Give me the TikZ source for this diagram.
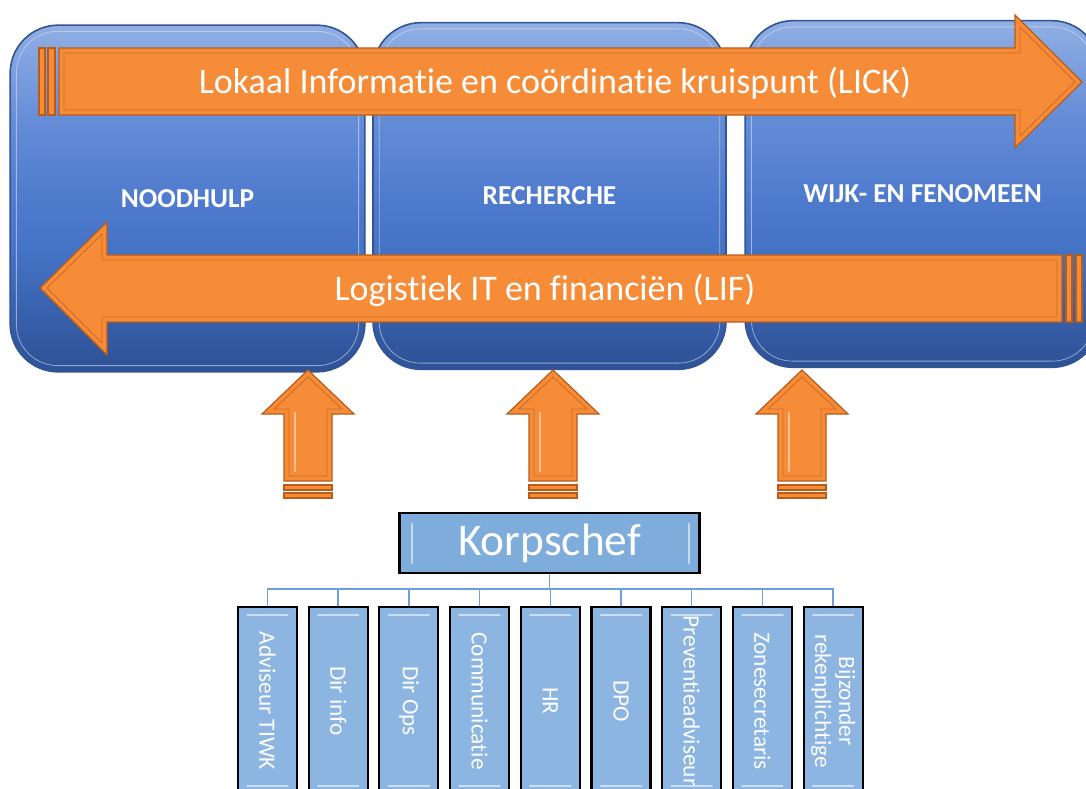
\documentclass[tikz,border=0pt]{standalone}
\usepackage{fontspec}
\setmainfont{Carlito}[Ligatures=NoCommon]
\usepackage{tikz}
\usetikzlibrary{positioning,calc}
\definecolor{oranje}{RGB}{246,139,56}
\definecolor{oranjerand}{RGB}{184,92,26}
\definecolor{blauw1}{RGB}{145,175,228}
\definecolor{blauw2}{RGB}{100,140,215}
\definecolor{blauw3}{RGB}{78,122,205}
\definecolor{blauw4}{RGB}{68,114,196}
\definecolor{blauw5}{RGB}{50,88,160}
\definecolor{blauw6}{RGB}{46,82,150}
\definecolor{blauwrand}{RGB}{50,84,148}
\definecolor{korpsblauw}{RGB}{126,173,220}
\definecolor{stafblauw}{RGB}{141,181,226}
\definecolor{lijnblauw}{RGB}{110,159,218}
\pgfdeclareverticalshading{pijlerkleur}{100bp}{color(0bp)=(blauw6); color(25bp)=(blauw6);
	color(29bp)=(blauw5); color(42bp)=(blauw4); color(49bp)=(blauw3);
	color(61bp)=(blauw2); color(75bp)=(blauw1); color(100bp)=(blauw1)}

\begin{document}
\begin{tikzpicture}[x=0.75pt,y=-0.75pt,
	pijler/.style={rectangle,rounded corners=36pt,draw=blauwrand,line width=1.2pt,
		shading=pijlerkleur,minimum width=266pt,minimum height=260pt,text=white,
		font=\fontsize{20.5}{23}\selectfont\bfseries},
	rand/.style={draw=white!75!blauw3,line width=0.6pt,opacity=0.6,rounded corners=31pt},
	pijl/.style={fill=oranje,draw=oranjerand,line width=0.9pt,line join=miter},
	reliëf/.style={draw=oranjerand!65!oranje,line width=0.6pt,line join=miter},
	pijl tekst/.style={text=white,font=\fontsize{27}{30}\selectfont},
	staf node/.style={rectangle,draw=black,line width=1.6pt,fill=stafblauw,rotate=-90,
		minimum width=141pt,minimum height=44.25pt,inner sep=1pt,align=center,
		text=white,font=\fontsize{17.5}{18}\selectfont},
	glans/.style={draw=white!55!stafblauw,line width=2.2pt,line cap=round},
	lijn/.style={draw=lijnblauw,line width=1.1pt}]

	\useasboundingbox[fill=white] (0,0) rectangle (1086,789);

	% de drie pijlers
	\node[pijler] (nood) at (187.5,198.5) {NOODHULP};
	\node[pijler,minimum width=264.75pt] (rech) at (549.5,196) {RECHERCHE};
	\node[pijler] (wijk) at (922.5,194) {WIJK- EN FENOMEEN};
	\foreach \p in {nood,rech,wijk}
		\draw[rand] ($(\p.south west)+(7,-7)$) rectangle ($(\p.north east)+(-7,7)$);

	% LICK
	\draw[pijl] (59,48) -- (1015,48) -- (1015,15) -- (1082,82) -- (1015,148)
		-- (1015,115) -- (59,115) -- cycle;
	\draw[reliëf] (64,53) -- (1020,53) -- (1020,27) -- (1075,82) -- (1020,136)
		-- (1020,110) -- (64,110) -- cycle;
	\draw[pijl] (39,48) rectangle (45,115);
	\draw[pijl] (48,48) rectangle (55,115);
	\node[pijl tekst] (lick) at (555,83) {Lokaal Informatie en coördinatie kruispunt (LICK)};

	% LIF
	\draw[pijl] (1062,255) -- (107,255) -- (107,222) -- (40,288) -- (107,355)
		-- (107,322) -- (1062,322) -- cycle;
	\draw[reliëf] (1057,260) -- (102,260) -- (102,234) -- (47,288) -- (102,343)
		-- (102,317) -- (1057,317) -- cycle;
	\draw[pijl] (1066,255) rectangle (1072,322);
	\draw[pijl] (1076,255) rectangle (1082,322);
	\node[pijl tekst] (lif) at (545,290) {Logistiek IT en financiën (LIF)};

	% steunpijlen
	\foreach \c in {308,553,802} {
		\draw[pijl] (\c,370) -- (\c+46,414) -- (\c+24,414) -- (\c+24,481)
			-- (\c-24,481) -- (\c-24,414) -- (\c-46,414) -- cycle;
		\draw[reliëf] (\c,377) -- (\c+34,409) -- (\c+19,409) -- (\c+19,476)
			-- (\c-19,476) -- (\c-19,409) -- (\c-34,409) -- cycle;
		\draw[draw=white!45!oranje,line width=2pt] (\c-13,412) -- (\c-13,472);
		\draw[pijl] (\c-24,485) rectangle (\c+24,490);
		\draw[pijl] (\c-24,493) rectangle (\c+24,498);
	}

	% korpschef en staf
	\node[rectangle,draw=black,line width=1.8pt,fill=korpsblauw,minimum width=225pt,
		minimum height=45pt,text=white,font=\fontsize{34}{37}\selectfont]
		(K) at (549.5,543) {Korpschef};
	\draw[glans,draw=white!55!korpsblauw] (412,524) -- (412,563);
	\draw[glans,draw=white!55!korpsblauw] (689,524) -- (689,563);

	\coordinate (bus) at (549.5,589);
	\draw[lijn] (K.south) -- (bus);

	\foreach \lbl [count=\i] in {Adviseur TIWK,Dir info,Dir Ops,Communicatie,HR,DPO,
		Preventieadviseur,Zonesecretaris,{Bijzonder\\rekenplichtige}} {
		\pgfmathsetmacro\xs{267.5+70.7*(\i-1)}
		\draw[lijn] (bus) -| (\xs,607);
		\node[staf node] (s\i) at (\xs,701) {\lbl};
		\draw[glans] (\xs-20,615) -- (\xs+20,615);
		\draw[glans] (\xs-20,786) -- (\xs+20,786);
	}
\end{tikzpicture}
\end{document}
